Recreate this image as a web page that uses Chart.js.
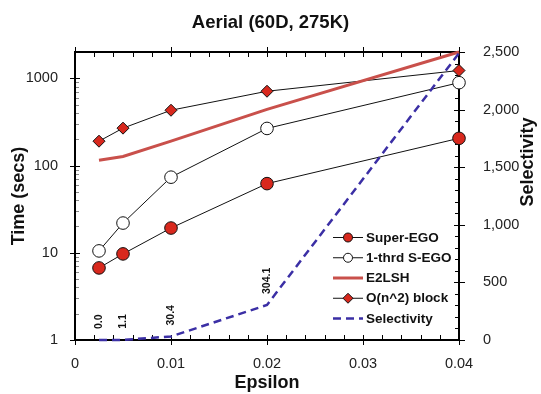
<!DOCTYPE html>
<html>
<head>
<meta charset="utf-8">
<title>Aerial (60D, 275K)</title>
<script src="https://cdn.jsdelivr.net/npm/chart.js@4.4.1/dist/chart.umd.min.js"></script>
<style>
  body { margin: 0; background: #fff; }
</style>
</head>
<body>
<canvas id="timeChart" width="541" height="394"></canvas>
<script>
// --- Data ---
const epsilon = [0.0025, 0.005, 0.01, 0.02, 0.04];
const superEgo = [6.7, 9.7, 19.2, 62, 205];
const oneThreadEgo = [10.5, 21.9, 73.5, 266, 890];
const e2lsh = [115, 127, 190, 440, 2000];
const blockNested = [190, 268, 430, 710, 1227];
const selectivity = [0.0, 1.1, 30.4, 304.1, 2490];

const seriesNames = ['Super-EGO', '1-thrd S-EGO', 'E2LSH', 'O(n^2) block', 'Selectivity'];
const logTickLabels = [1, 10, 100, 1000];

const FONT = '"Liberation Sans", Arial, sans-serif';
const RED = '#d8281d';
const LSH_RED = '#c9504b';
const BLUE = '#3b2fa5';

function toPoints(values) {
    return epsilon.map((e, i) => ({ x: e, y: values[i] }));
}

// --- Frame and tick marks (drawn under the data) ---
const frameAndTicks = {
    id: 'frameAndTicks',
    beforeDatasetsDraw(chart) {
        const { ctx, chartArea: a, scales } = chart;
        ctx.save();
        ctx.strokeStyle = '#000';
        ctx.lineWidth = 1;
        ctx.beginPath();
        // x axis: minor every 0.002, major every 0.01 (top and bottom)
        for (let i = 0; i <= 20; i++) {
            const px = Math.round(scales.x.getPixelForValue(i * 0.002)) + 0.5;
            const major = i % 5 === 0;
            ctx.moveTo(px, a.bottom - 5);
            ctx.lineTo(px, a.bottom + (major ? 5 : 0));
            ctx.moveTo(px, a.top + 5);
            ctx.lineTo(px, a.top - (major ? 5 : 0));
        }
        // right axis: minor every 100, major every 500
        for (let v = 0; v <= 2500; v += 100) {
            const py = Math.round(scales.y2.getPixelForValue(v)) + 0.5;
            const major = v % 500 === 0;
            ctx.moveTo(a.right - (major ? 5 : 4), py);
            ctx.lineTo(a.right + (major ? 6 : 0), py);
        }
        // left log axis: decade ticks cross the line
        logTickLabels.forEach(d => {
            const py = Math.round(scales.y.getPixelForValue(d)) + 0.5;
            ctx.moveTo(a.left - 5, py);
            ctx.lineTo(a.left + 5, py);
        });
        ctx.stroke();

        // left log axis minor ticks, lighter
        ctx.strokeStyle = '#888';
        ctx.beginPath();
        logTickLabels.forEach(d => {
            for (let m = 2; m <= 9; m++) {
                if (d * m > 2000) break;
                const py = Math.round(scales.y.getPixelForValue(d * m)) + 0.5;
                ctx.moveTo(a.left, py);
                ctx.lineTo(a.left + 4, py);
            }
        });
        ctx.stroke();

        ctx.strokeStyle = '#000';
        ctx.lineWidth = 2;
        ctx.strokeRect(a.left, a.top, a.right - a.left, a.bottom - a.top);
        ctx.restore();
    }
};

function drawMarker(ctx, style, x, y, r, fill) {
    ctx.beginPath();
    if (style === 'rectRot') {
        ctx.moveTo(x, y - r);
        ctx.lineTo(x + r, y);
        ctx.lineTo(x, y + r);
        ctx.lineTo(x - r, y);
        ctx.closePath();
    } else {
        ctx.arc(x, y, r, 0, Math.PI * 2);
    }
    ctx.fillStyle = fill;
    ctx.fill();
    ctx.lineWidth = 1;
    ctx.strokeStyle = '#111';
    ctx.setLineDash([]);
    ctx.stroke();
}

// --- Legend, value labels and right axis title ---
const annotations = {
    id: 'annotations',
    afterDraw(chart) {
        const { ctx } = chart;
        ctx.save();

        // legend
        chart.data.datasets.forEach((ds, i) => {
            const y = 237.5 + i * 20.25;
            ctx.beginPath();
            ctx.strokeStyle = ds.borderColor;
            ctx.lineWidth = ds.borderWidth;
            ctx.setLineDash(ds.borderDash || []);
            ctx.moveTo(333, y);
            ctx.lineTo(363, y);
            ctx.stroke();
            ctx.setLineDash([]);
            if (ds.pointRadius > 0) {
                drawMarker(ctx, ds.pointStyle, 348, y, ds.pointStyle === 'rectRot' ? 5 : 4.5, ds.pointBackgroundColor);
            }
            ctx.fillStyle = '#111';
            ctx.font = 'bold 13.5px ' + FONT;
            ctx.textAlign = 'left';
            ctx.textBaseline = 'middle';
            ctx.fillText(ds.label, 366, y + 0.5);
        });

        // selectivity value labels (rotated)
        const meta = chart.getDatasetMeta(4);
        ctx.font = 'bold 10.5px ' + FONT;
        ctx.fillStyle = '#111';
        meta.data.forEach((pt, i) => {
            if (i === selectivity.length - 1) return;
            ctx.save();
            ctx.translate(pt.x, pt.y - 11);
            ctx.rotate(-Math.PI / 2);
            ctx.textAlign = 'left';
            ctx.textBaseline = 'middle';
            ctx.fillText(selectivity[i].toFixed(1), 0, 0);
            ctx.restore();
        });

        // right axis title
        ctx.save();
        ctx.translate(528, 162);
        ctx.rotate(-Math.PI / 2);
        ctx.font = 'bold 18px ' + FONT;
        ctx.textAlign = 'center';
        ctx.textBaseline = 'middle';
        ctx.fillText('Selectivity', 0, 0);
        ctx.restore();

        ctx.restore();
    }
};

const timeSeries = {
    borderColor: '#111',
    borderWidth: 1,
    pointRadius: 6.3,
    pointBorderColor: '#111',
    pointBorderWidth: 1,
    yAxisID: 'y',
    clip: false
};

new Chart(document.getElementById('timeChart'), {
    type: 'line',
    data: {
        datasets: [
            { ...timeSeries, label: seriesNames[0], data: toPoints(superEgo), pointStyle: 'circle', pointBackgroundColor: RED },
            { ...timeSeries, label: seriesNames[1], data: toPoints(oneThreadEgo), pointStyle: 'circle', pointBackgroundColor: '#fff' },
            { label: seriesNames[2], data: toPoints(e2lsh), borderColor: LSH_RED, borderWidth: 3, pointRadius: 0, yAxisID: 'y', clip: false },
            { ...timeSeries, label: seriesNames[3], data: toPoints(blockNested), pointStyle: 'rectRot', pointRadius: 6, pointBackgroundColor: RED },
            { label: seriesNames[4], data: toPoints(selectivity), borderColor: BLUE, borderWidth: 2.5, borderDash: [8, 5], pointRadius: 0, yAxisID: 'y2', clip: false, order: -1 }
        ]
    },
    options: {
        responsive: false,
        animation: false,
        layout: { padding: 0 },
        plugins: {
            legend: { display: false },
            tooltip: { enabled: false },
            title: {
                display: true,
                text: 'Aerial (60D, 275K)',
                color: '#111',
                font: { family: FONT, size: 18.5, weight: 'bold' },
                padding: { top: 12, bottom: 17.8 }
            }
        },
        scales: {
            x: {
                type: 'linear',
                min: 0,
                max: 0.04,
                grid: { display: false },
                border: { display: false },
                ticks: {
                    stepSize: 0.01,
                    autoSkip: false,
                    maxRotation: 0,
                    padding: 7,
                    color: '#222',
                    font: { family: FONT, size: 14.5 },
                    callback: v => v === 0 ? '0' : v.toFixed(2)
                },
                title: {
                    display: true,
                    text: 'Epsilon',
                    color: '#111',
                    font: { family: FONT, size: 18, weight: 'bold' },
                    padding: { top: 0, bottom: 0 }
                },
                afterFit: s => { s.height = 54; }
            },
            y: {
                type: 'logarithmic',
                position: 'left',
                min: 1,
                max: 2000,
                grid: { display: false },
                border: { display: false },
                ticks: {
                    autoSkip: false,
                    padding: 9,
                    color: '#222',
                    font: { family: FONT, size: 14.5 },
                    callback: v => logTickLabels.includes(v) ? String(v) : ''
                },
                title: {
                    display: true,
                    text: 'Time (secs)',
                    color: '#111',
                    font: { family: FONT, size: 18, weight: 'bold' },
                    padding: { top: 8, bottom: 0 }
                },
                afterFit: s => { s.width = 75; }
            },
            y2: {
                type: 'linear',
                position: 'right',
                min: 0,
                max: 2500,
                grid: { display: false },
                border: { display: false },
                ticks: {
                    stepSize: 500,
                    padding: 16,
                    color: '#222',
                    font: { family: FONT, size: 14.5 },
                    callback: v => v.toLocaleString('en-US')
                },
                afterFit: s => { s.width = 82; }
            }
        }
    },
    plugins: [frameAndTicks, annotations]
});
</script>
</body>
</html>
